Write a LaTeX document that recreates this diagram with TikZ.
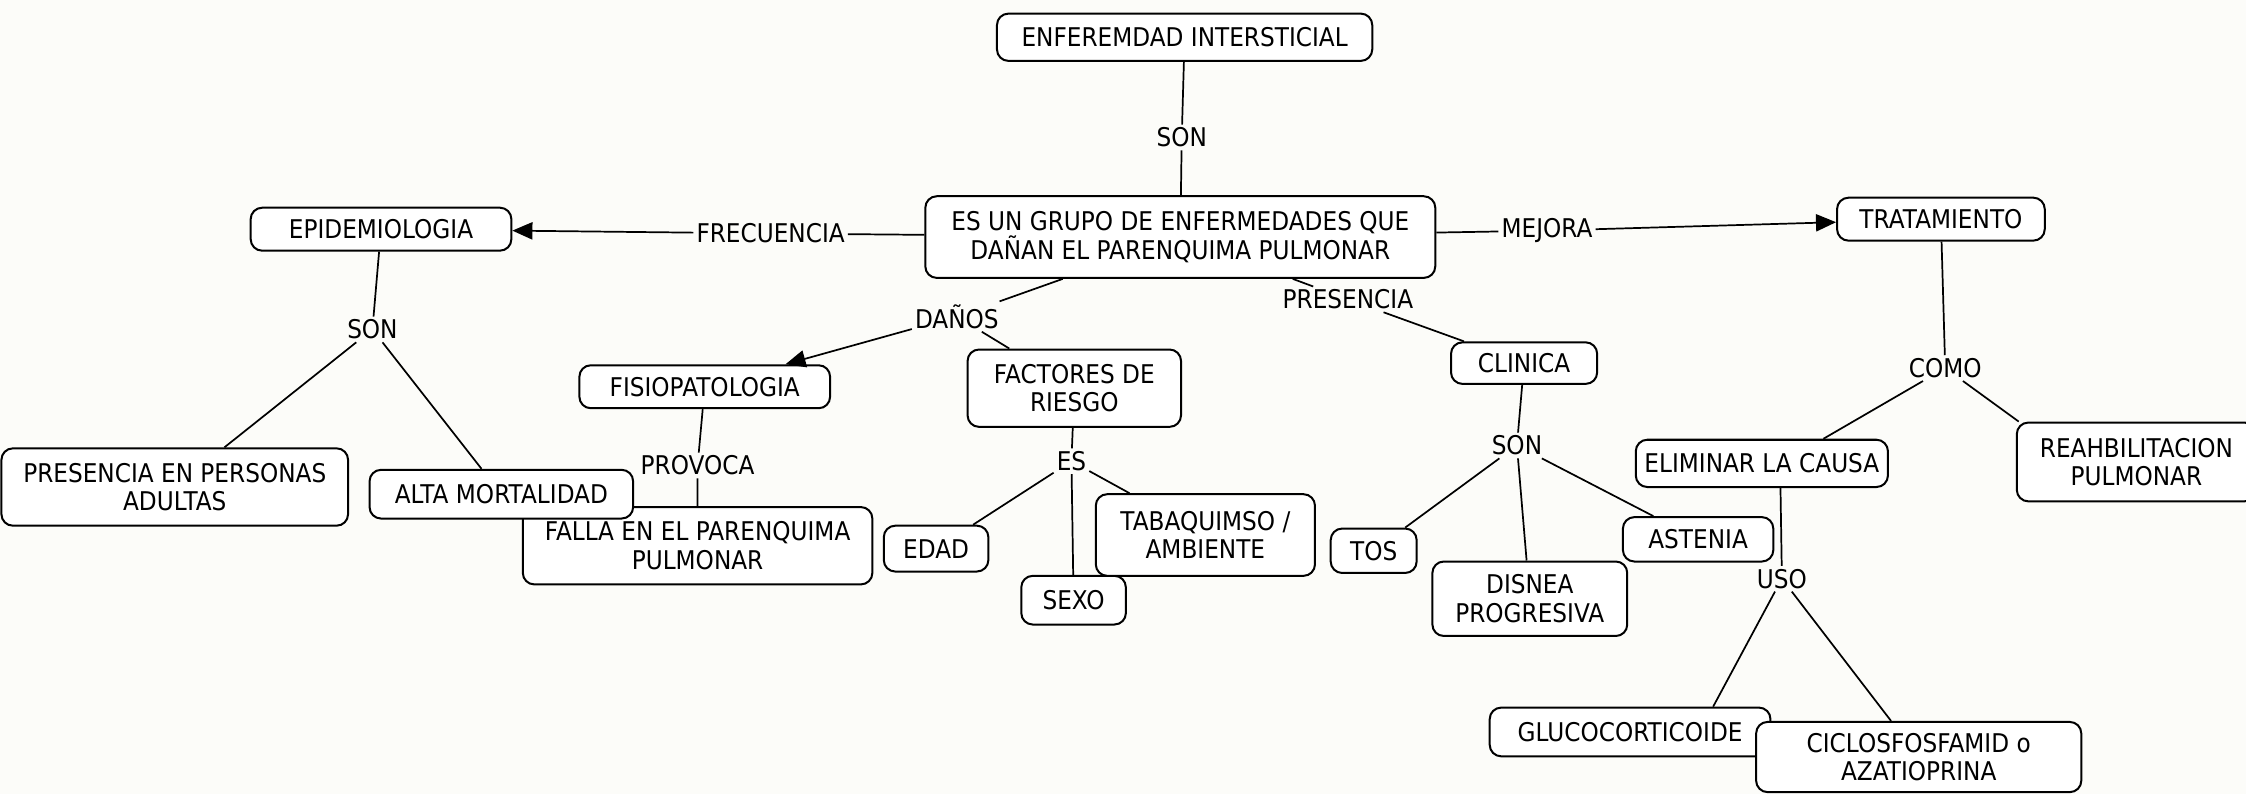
\documentclass[tikz,border=0pt]{standalone}
\usepackage{fontspec}
\setmainfont[FakeStretch=0.9]{DejaVu Sans}
\usetikzlibrary{arrows.meta}
\definecolor{bgc}{RGB}{252,252,249}
\begin{document}
\begin{tikzpicture}[x=1pt,y=-1pt,
  box/.style={draw, line width=1.4pt, rounded corners=8pt, fill=white, align=center,
    inner xsep=4pt, inner ysep=2pt, font=\fontsize{18}{20}\selectfont},
  lab/.style={inner sep=2pt, font=\fontsize{18}{20}\selectfont},
  con/.style={line width=1.2pt},
  arr/.style={line width=1.2pt, -{Triangle[length=14pt,width=12pt]}}]
\path[use as bounding box, fill=bgc] (0,0) rectangle (1568,554);
\clip (0,0) rectangle (1568,554);
% concepts
\node[box, minimum width=262pt, minimum height=33pt] (enf) at (827,26) {ENFEREMDAD INTERSTICIAL};
\node[box, minimum width=356pt, minimum height=57pt] (main) at (824,165.5) {ES UN GRUPO DE ENFERMEDADES QUE\\DAÑAN EL PARENQUIMA PULMONAR};
\node[box, minimum width=182pt, minimum height=30pt] (epi) at (266,160) {EPIDEMIOLOGIA};
\node[box, minimum width=145pt, minimum height=30pt] (trat) at (1355,153) {TRATAMIENTO};
\node[box, minimum width=242pt, minimum height=54pt] (pres) at (122,340) {PRESENCIA EN PERSONAS\\ADULTAS};
\node[box, minimum width=175pt, minimum height=30pt] (fisio) at (492,270) {FISIOPATOLOGIA};
\node[box, minimum width=149pt, minimum height=54pt] (fact) at (750,271) {FACTORES DE\\RIESGO};
\node[box, minimum width=244pt, minimum height=54pt] (falla) at (487,381) {FALLA EN EL PARENQUIMA\\PULMONAR};
\node[box, minimum width=184pt, minimum height=34pt] (alta) at (350,345) {ALTA MORTALIDAD};
\node[box, minimum width=73pt, minimum height=32pt] (edad) at (653.5,383) {EDAD};
\node[box, minimum width=73pt, minimum height=34pt] (sexo) at (749.5,419) {SEXO};
\node[box, minimum width=153pt, minimum height=57pt] (tab) at (841.5,373.5) {TABAQUIMSO /\\AMBIENTE};
\node[box, minimum width=102pt, minimum height=29pt] (clin) at (1064,253.5) {CLINICA};
\node[box, minimum width=60pt, minimum height=31pt] (tos) at (959,384.5) {TOS};
\node[box, minimum width=136pt, minimum height=52pt] (disn) at (1068,418) {DISNEA\\PROGRESIVA};
\node[box, minimum width=105pt, minimum height=31pt] (ast) at (1185.5,376.5) {ASTENIA};
\node[box, minimum width=176pt, minimum height=33pt] (elim) at (1230,323.5) {ELIMINAR LA CAUSA};
\node[box, minimum width=167pt, minimum height=55pt] (reah) at (1491.5,322.5) {REAHBILITACION\\PULMONAR};
\node[box, minimum width=196pt, minimum height=34pt] (gluc) at (1138,511) {GLUCOCORTICOIDE};
\node[box, minimum width=227pt, minimum height=49pt] (cic) at (1339.5,528.5) {CICLOSFOSFAMID o\\AZATIOPRINA};
% linking phrases
\node[lab] (son1) at (825,96) {SON};
\node[lab] (frec) at (538,163) {FRECUENCIA};
\node[lab] (mej) at (1080,161) {MEJORA};
\node[lab] (son2) at (260,230) {SON};
\node[lab] (danos) at (668,221) {DAÑOS};
\node[lab] (prov) at (487,325) {PROVOCA};
\node[lab] (es) at (748,322) {ES};
\node[lab] (presl) at (941,209) {PRESENCIA};
\node[lab] (son3) at (1059,311) {SON};
\node[lab] (como) at (1358,257) {COMO};
\node[lab] (uso) at (1244,404) {USO};
% connectors
\draw[con] (enf) -- (son1) -- (main);
\draw[con] (main) -- (frec);
\draw[arr] (frec) -- (epi);
\draw[con] (main) -- (mej);
\draw[arr] (mej) -- (trat);
\draw[con] (epi) -- (son2);
\draw[con] (son2) -- (pres);
\draw[con] (son2) -- (alta);
\draw[con] (main) -- (danos);
\draw[arr] (danos) -- (fisio);
\draw[con] (danos) -- (fact);
\draw[con] (fisio) -- (prov) -- (falla);
\draw[con] (fact) -- (es);
\draw[con] (es) -- (edad);
\draw[con] (es) -- (sexo);
\draw[con] (es) -- (tab);
\draw[con] (main) -- (presl) -- (clin);
\draw[con] (clin) -- (son3);
\draw[con] (son3) -- (tos);
\draw[con] (son3) -- (disn);
\draw[con] (son3) -- (ast);
\draw[con] (trat) -- (como);
\draw[con] (como) -- ([xshift=43pt]elim.north);
\draw[con] (como) -- ([xshift=2pt]reah.north west);
\draw[con] ([xshift=13pt]elim.south) -- (uso);
\draw[con] (uso) -- ([xshift=58pt]gluc.north);
\draw[con] (uso) -- (cic);
\end{tikzpicture}
\end{document}
